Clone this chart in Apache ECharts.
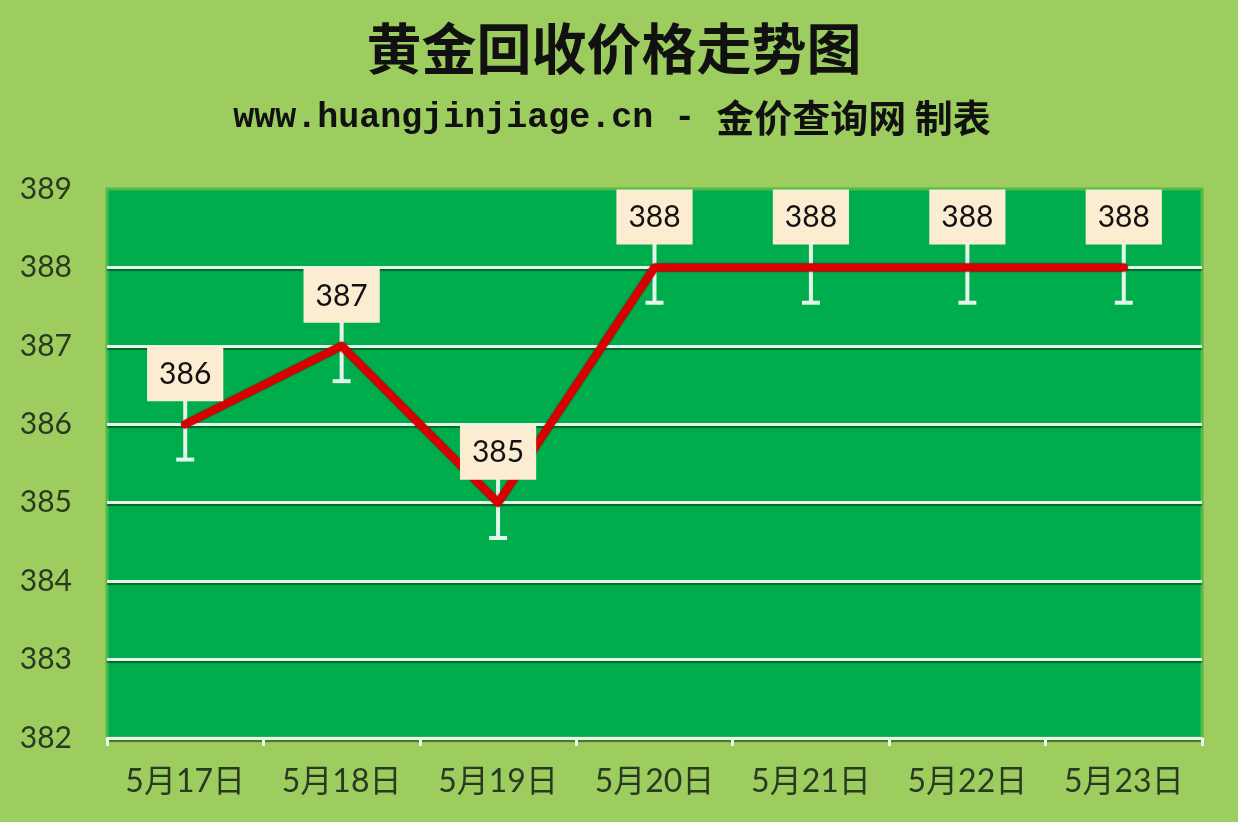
<!DOCTYPE html>
<html>
<head>
<meta charset="utf-8">
<script src="https://cdn.jsdelivr.net/npm/echarts@6/dist/echarts.min.js"></script>
<style>
  html, body { margin: 0; padding: 0; background: #9ccd5e; }
  #chart { width: 1238px; height: 822px; }
</style>
</head>
<body>
<div id="chart"></div>
<script>
// data
var dates = ['5月17日', '5月18日', '5月19日', '5月20日', '5月21日', '5月22日', '5月23日'];
var prices = [386, 387, 385, 388, 388, 388, 388];
var errBar = [0.45, 0.45, 0.45, 0.45, 0.45, 0.45, 0.45];
var yTicks = [382, 383, 384, 385, 386, 387, 388, 389];

var myChart = echarts.init(document.getElementById('chart'));

// error bars: white stem with a cap on both ends (top one sits behind the label)
function renderErr(params, api) {
    var i = api.value(0);
    var v = api.value(1);
    var e = api.value(2);
    var lo = api.coord([i, v - e]);
    var hi = api.coord([i, v + e]);
    var half = 9;
    var st = { stroke: '#e3f5ea', lineWidth: 4 };
    return {
        type: 'group',
        children: [
            { type: 'line', shape: { x1: lo[0], y1: lo[1], x2: hi[0], y2: hi[1] }, style: st },
            { type: 'line', shape: { x1: lo[0] - half, y1: lo[1], x2: lo[0] + half, y2: lo[1] }, style: st },
            { type: 'line', shape: { x1: hi[0] - half, y1: hi[1], x2: hi[0] + half, y2: hi[1] }, style: st }
        ]
    };
}

option = {
    backgroundColor: '#9ccd5e',
    title: [{
        text: '黄金回收价格走势图',
        left: 609,
        textAlign: 'center',
        top: 16,
        textStyle: {
            fontFamily: 'Noto Sans CJK SC',
            fontSize: 55,
            fontWeight: 'bold',
            color: '#111'
        }
    }, {
        text: '{a|www.huangjinjiage.cn - }{b|金价查询网 制表}',
        left: 607,
        textAlign: 'center',
        top: 94,
        textStyle: {
            rich: {
                a: { fontFamily: 'Liberation Mono', fontSize: 35, fontWeight: 'bold', color: '#111' },
                b: { fontFamily: 'Noto Sans CJK SC', fontSize: 38, fontWeight: 'bold', color: '#111' }
            }
        }
    }],
    grid: {
        left: 107,
        right: 36,
        top: 189,
        bottom: 84,
        show: true,
        backgroundColor: '#00ad4d',
        borderColor: '#4fbb4a',
        borderWidth: 3
    },
    xAxis: {
        type: 'category',
        data: dates,
        boundaryGap: true,
        axisLine: { lineStyle: { color: '#eef8e8', width: 3 } },
        axisTick: { show: true, interval: 0, length: 8, lineStyle: { color: '#eef8e8', width: 3 } },
        axisLabel: {
            interval: 0,
            margin: 28,
            fontFamily: 'Lato, "Noto Sans CJK SC"',
            fontSize: 32,
            color: '#2a3a22'
        }
    },
    yAxis: {
        type: 'value',
        min: yTicks[0],
        max: yTicks[yTicks.length - 1],
        interval: 1,
        axisLine: { show: false },
        axisTick: { show: false },
        axisLabel: {
            margin: 35,
            fontFamily: 'Lato',
            fontSize: 30,
            color: '#2a3a22'
        },
        splitLine: {
            showMaxLine: false,
            lineStyle: { color: '#e3f5ea', width: 3, shadowColor: 'rgba(0,60,20,0.6)', shadowOffsetY: 2, shadowBlur: 1 }
        }
    },
    series: [{
        type: 'custom',
        renderItem: renderErr,
        data: prices.map(function (p, i) { return [i, p, errBar[i]]; }),
        z: 2,
        silent: true
    }, {
        type: 'line',
        data: prices,
        z: 3,
        symbol: 'circle',
        symbolSize: 2,
        showSymbol: true,
        itemStyle: { color: '#d80000' },
        lineStyle: {
            color: '#d80000',
            width: 8,
            shadowColor: 'rgba(90,0,0,0.8)',
            shadowBlur: 2,
            cap: 'round',
            join: 'round'
        },
        label: {
            show: true,
            position: 'top',
            distance: 22,
            fontFamily: 'Lato',
            fontSize: 30,
            color: '#111',
            backgroundColor: '#fcedd2',
            padding: [13, 12, 12, 12]
        },
        labelLayout: { hideOverlap: false },
        animation: false
    }],
    animation: false
};

myChart.setOption(option);
</script>
</body>
</html>
